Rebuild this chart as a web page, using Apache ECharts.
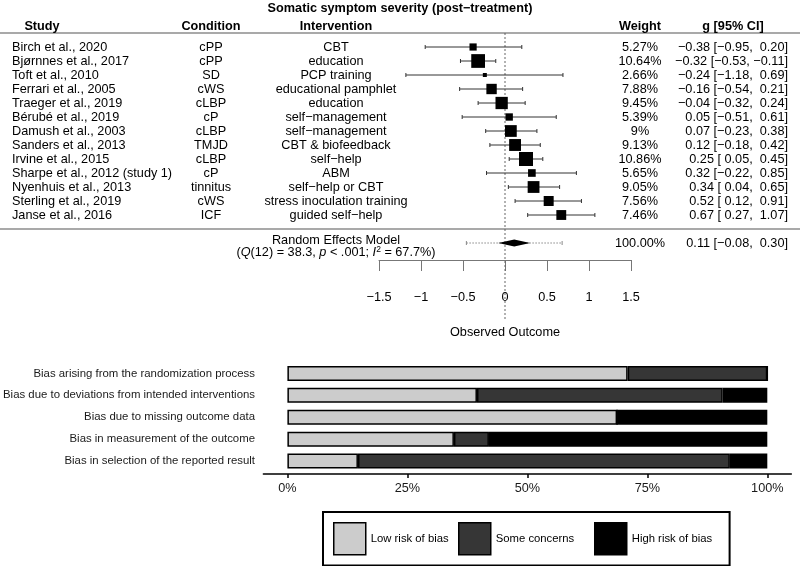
<!DOCTYPE html>
<html><head><meta charset="utf-8">
<script src="https://cdn.jsdelivr.net/npm/echarts@6/dist/echarts.min.js"></script>
<style>html,body{margin:0;padding:0;background:#fff}#chart{width:800px;height:566px}</style>
</head><body><div id="chart"></div>
<script>
// ---------------- data ----------------
const chartTitle = 'Somatic symptom severity (post\u2212treatment)';
const headers = ['Study', 'Condition', 'Intervention', 'Weight', 'g [95% CI]'];
const studies = ['Birch et al., 2020','Bj\u00f8rnnes et al., 2017','Toft et al., 2010','Ferrari et al., 2005','Traeger et al., 2019','B\u00e9rub\u00e9 et al., 2019','Damush et al., 2003','Sanders et al., 2013','Irvine et al., 2015','Sharpe et al., 2012 (study 1)','Nyenhuis et al., 2013','Sterling et al., 2019','Janse et al., 2016'];
const conditions = ['cPP','cPP','SD','cWS','cLBP','cP','cLBP','TMJD','cLBP','cP','tinnitus','cWS','ICF'];
const interventions = ['CBT','education','PCP training','educational pamphlet','education','self\u2212management','self\u2212management','CBT & biofeedback','self\u2212help','ABM','self\u2212help or CBT','stress inoculation training','guided self\u2212help'];
const weights = [5.27,10.64,2.66,7.88,9.45,5.39,9,9.13,10.86,5.65,9.05,7.56,7.46];
const effects = [-0.38,-0.32,-0.24,-0.16,-0.04,0.05,0.07,0.12,0.25,0.32,0.34,0.52,0.67];
const ciLower = [-0.95,-0.53,-1.18,-0.54,-0.32,-0.51,-0.23,-0.18,0.05,-0.22,0.04,0.12,0.27];
const ciUpper = [0.20,-0.11,0.69,0.21,0.24,0.61,0.38,0.42,0.45,0.85,0.65,0.91,1.07];
const summary = [0.11, -0.08, 0.30];          // estimate, lower, upper
const predInterval = [-0.46, 0.68];
const summaryWeight = 100;
const modelLabel = 'Random Effects Model';
const hetQ = '38.3', hetDf = 12, hetP = '< .001', hetI2 = '67.7%';
const forestTicks = [-1.5, -1, -0.5, 0, 0.5, 1, 1.5];
const xAxisTitle = 'Observed Outcome';

const biasDomains = ['Bias arising from the randomization process','Bias due to deviations from intended interventions','Bias due to missing outcome data','Bias in measurement of the outcome','Bias in selection of the reported result'];
const biasLow  = [70.9, 39.5, 68.7, 34.7, 14.7];
const biasSome = [29.1, 51.2, 0, 7.3, 77.5];
const biasHigh = [0, 9.3, 31.3, 58.0, 7.8];
const biasNames = ['Low risk of bias', 'Some concerns', 'High risk of bias'];
const biasTicks = [0, 25, 50, 75, 100];

// ---------------- helpers ----------------
const FONT = "'Liberation Sans', Arial, Helvetica, sans-serif";
const FS = 12.7;
const LFS = 11.3;
const minus = v => (v < 0 ? '\u2212' : '') + Math.abs(v).toFixed(2);
const pad = v => (v < 0 ? '' : ' ') + minus(v);
const ciText = (g, l, u) => minus(g) + ' [' + pad(l) + ', ' + pad(u) + ']';
const squareSize = w => 0.76 + 1.22 * w;

// table layout (pixel x positions of columns)
const COL = {study: 12, studyHead: 42, cond: 211, interv: 336, weight: 640, ci: 788};
const HEADER_ROW = -0.45, SUMMARY_ROW = 15, TOP_LINE = 0, MID_LINE = 14, ZERO_END = 20.5;
const ROWS_IN_GRID = 227 / 14;
// legend layout
const LEGEND_BOX = {left: 323, top: 512, width: 406};
const LEGEND_ITEM_LEFT = [333, 458, 594];

const cells = [];
headers.forEach((h, k) => {
  const xs = [COL.studyHead, COL.cond, COL.interv, COL.weight, COL.ci - 55];
  cells.push({row: HEADER_ROW, x: xs[k], text: h, align: 'center', bold: true});
});
studies.forEach((s, i) => {
  const r = i + 1;
  cells.push({row: r, x: COL.study, text: s, align: 'left'});
  cells.push({row: r, x: COL.cond, text: conditions[i], align: 'center'});
  cells.push({row: r, x: COL.interv, text: interventions[i], align: 'center'});
  cells.push({row: r, x: COL.weight, text: weights[i] + '%', align: 'center'});
  cells.push({row: r, x: COL.ci, text: ciText(effects[i], ciLower[i], ciUpper[i]), align: 'right'});
});
cells.push({row: SUMMARY_ROW - 0.2, x: COL.interv, text: modelLabel, align: 'center'});
cells.push({row: SUMMARY_ROW + 0.7, x: COL.interv, align: 'center',
  text: '({i|Q}(' + hetDf + ') = ' + hetQ + ', {i|p} ' + hetP + '; {i|I}{sup|2} = ' + hetI2 + ')'});
cells.push({row: SUMMARY_ROW, x: COL.weight, text: summaryWeight.toFixed(2) + '%', align: 'center'});
cells.push({row: SUMMARY_ROW, x: COL.ci, text: ciText(summary[0], summary[1], summary[2]), align: 'right'});

const legendBase = {
  orient: 'horizontal', selectedMode: false,
  itemWidth: 32, itemHeight: 32, icon: 'rect',
  itemStyle: {borderColor: '#000', borderWidth: 1.5},
  textStyle: {fontSize: LFS, color: '#000', fontFamily: FONT}
};
// first legend carries the frame; the others sit inside it
const firstItemW = 32 + 5 + 78;
const legends = biasNames.map((n, k) => Object.assign({}, legendBase, k === 0 ? {
  data: [n], left: LEGEND_BOX.left, top: LEGEND_BOX.top,
  padding: [10, LEGEND_BOX.width - (LEGEND_ITEM_LEFT[0] - LEGEND_BOX.left) - firstItemW, 10, LEGEND_ITEM_LEFT[0] - LEGEND_BOX.left],
  borderColor: '#000', borderWidth: 2
} : {
  data: [n], left: LEGEND_ITEM_LEFT[k], top: LEGEND_BOX.top + 10, padding: 0
}));

const chart = echarts.init(document.getElementById('chart'), null, {renderer: 'canvas'});

const option = {
  animation: false,
  backgroundColor: '#fff',
  textStyle: {fontFamily: FONT},
  title: {text: chartTitle, left: 'center', top: 1.5, padding: 0,
    textStyle: {fontSize: FS, fontWeight: 'bold', color: '#000', fontFamily: FONT}},
  legend: legends,
  grid: [
    {left: 379, width: 252, top: 33, height: 227},
    {left: 261.7, right: 8.7, top: 362.5, height: 109.5}
  ],
  xAxis: [
    {gridIndex: 0, type: 'value', min: -1.5, max: 1.5, interval: 0.5, position: 'bottom',
      axisLine: {show: true, onZero: false, lineStyle: {color: '#777', width: 1}},
      axisTick: {show: true, length: 11, lineStyle: {color: '#777', width: 1}},
      axisLabel: {margin: 30.5, fontSize: FS, color: '#000', fontFamily: FONT,
        formatter: v => (v < 0 ? '\u2212' : '') + Math.abs(v)},
      splitLine: {show: false},
      name: xAxisTitle, nameLocation: 'middle', nameGap: 65.5,
      nameTextStyle: {fontSize: FS, color: '#000', fontFamily: FONT}},
    {gridIndex: 1, type: 'value', min: -5, max: 105, offset: 2, position: 'bottom',
      axisLine: {show: true, onZero: false, lineStyle: {color: '#000', width: 1.6}},
      axisTick: {show: true, length: 4, customValues: biasTicks, lineStyle: {color: '#000', width: 1.5}},
      axisLabel: {customValues: biasTicks, formatter: v => v + '%', margin: 8, fontSize: FS, color: '#1a1a1a', fontFamily: FONT},
      splitLine: {show: false}}
  ],
  yAxis: [
    {gridIndex: 0, type: 'value', min: 0, max: ROWS_IN_GRID, inverse: true, show: false},
    {gridIndex: 1, type: 'category', data: biasDomains, inverse: true,
      axisLine: {show: false}, axisTick: {show: false},
      axisLabel: {fontSize: 11.4, color: '#1a1a1a', margin: 8.4, fontFamily: FONT}}
  ],
  series: [
    // zero reference line
    {type: 'custom', xAxisIndex: 0, yAxisIndex: 0, silent: true, clip: false, z: 1,
      data: [[0, TOP_LINE, ZERO_END]],
      renderItem: (params, api) => {
        const a = api.coord([api.value(0), api.value(1)]);
        const b = api.coord([api.value(0), api.value(2)]);
        return {type: 'line', shape: {x1: a[0], y1: a[1], x2: b[0], y2: b[1]},
          style: {stroke: '#666', lineWidth: 1, lineDash: [2, 2]}};
      }},
    // table rules
    {type: 'custom', xAxisIndex: 0, yAxisIndex: 0, silent: true, clip: false, z: 2,
      data: [[0, TOP_LINE], [0, MID_LINE]],
      renderItem: (params, api) => {
        const y = api.coord([0, api.value(1)])[1];
        return {type: 'line', shape: {x1: 0, y1: y, x2: 800, y2: y},
          style: {stroke: '#555', lineWidth: 1.2}};
      }},
    // table text
    {type: 'custom', xAxisIndex: 0, yAxisIndex: 0, silent: true, clip: false, z: 3,
      data: cells.map(c => [0, c.row]),
      renderItem: (params, api) => {
        const c = cells[params.dataIndex];
        const y = api.coord([0, api.value(1)])[1];
        return {type: 'text', style: {
          x: c.x, y: y, text: c.text, align: c.align, verticalAlign: 'middle',
          fontSize: FS, fontWeight: c.bold ? 'bold' : 'normal', fontFamily: FONT, fill: '#000',
          rich: {
            i: {fontStyle: 'italic', fontSize: FS, fontFamily: FONT, fill: '#000'},
            sup: {fontSize: 8.5, fontFamily: FONT, fill: '#000', padding: [0, 0, 7, 0]}
          }}};
      }},
    // study estimates
    {type: 'custom', xAxisIndex: 0, yAxisIndex: 0, silent: true, clip: false, z: 4,
      data: effects.map((g, i) => [g, ciLower[i], ciUpper[i], i + 1, weights[i]]),
      renderItem: (params, api) => {
        const row = api.value(3);
        const p = api.coord([api.value(0), row]);
        const lo = api.coord([api.value(1), row]);
        const hi = api.coord([api.value(2), row]);
        const s = squareSize(api.value(4));
        const y = p[1];
        const st = {stroke: '#333', lineWidth: 1};
        return {type: 'group', children: [
          {type: 'line', shape: {x1: lo[0], y1: y, x2: hi[0], y2: y}, style: st},
          {type: 'line', shape: {x1: lo[0], y1: y - 2, x2: lo[0], y2: y + 2}, style: st},
          {type: 'line', shape: {x1: hi[0], y1: y - 2, x2: hi[0], y2: y + 2}, style: st},
          {type: 'rect', shape: {x: p[0] - s / 2, y: y - s / 2, width: s, height: s}, style: {fill: '#000'}}
        ]};
      }},
    // summary
    {type: 'custom', xAxisIndex: 0, yAxisIndex: 0, silent: true, clip: false, z: 4,
      data: [[summary[0], summary[1], summary[2], SUMMARY_ROW, predInterval[0], predInterval[1]]],
      renderItem: (params, api) => {
        const row = api.value(3);
        const e = api.coord([api.value(0), row]);
        const l = api.coord([api.value(1), row]);
        const u = api.coord([api.value(2), row]);
        const pl = api.coord([api.value(4), row]);
        const pu = api.coord([api.value(5), row]);
        const y = e[1];
        const ds = {stroke: '#888', lineWidth: 1, lineDash: [1.5, 1.5]};
        return {type: 'group', children: [
          {type: 'line', shape: {x1: pl[0], y1: y, x2: pu[0], y2: y}, style: ds},
          {type: 'line', shape: {x1: pl[0], y1: y - 2, x2: pl[0], y2: y + 2}, style: {stroke: '#888', lineWidth: 1}},
          {type: 'line', shape: {x1: pu[0], y1: y - 2, x2: pu[0], y2: y + 2}, style: {stroke: '#888', lineWidth: 1}},
          {type: 'polygon', shape: {points: [[l[0], y], [e[0], y - 3.5], [u[0], y], [e[0], y + 3.5]]}, style: {fill: '#000'}}
        ]};
      }},
    // risk of bias bars
    {name: biasNames[0], type: 'bar', stack: 'rob', xAxisIndex: 1, yAxisIndex: 1, barWidth: 15,
      data: biasLow, itemStyle: {color: '#cccccc', borderColor: '#000', borderWidth: 1.5}},
    {name: biasNames[1], type: 'bar', stack: 'rob', xAxisIndex: 1, yAxisIndex: 1, barWidth: 15,
      data: biasSome, itemStyle: {color: '#363636', borderColor: '#000', borderWidth: 1.5}},
    {name: biasNames[2], type: 'bar', stack: 'rob', xAxisIndex: 1, yAxisIndex: 1, barWidth: 15,
      data: biasHigh, itemStyle: {color: '#000000', borderColor: '#000', borderWidth: 1.5}}
  ]
};
chart.setOption(option);
</script>
</body></html>
